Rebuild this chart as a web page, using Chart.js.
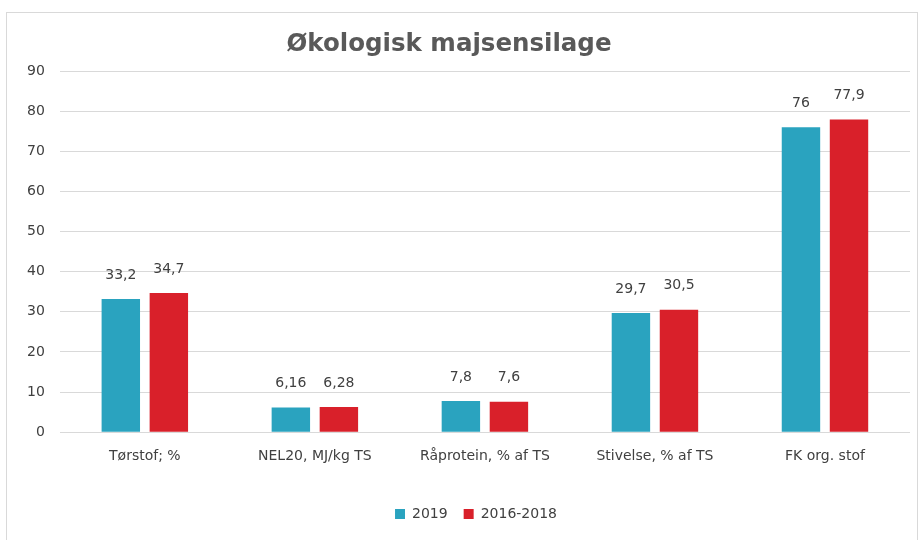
<!DOCTYPE html>
<html><head><meta charset="utf-8">
<script src="https://cdn.jsdelivr.net/npm/chart.js@4/dist/chart.umd.min.js"></script>
<style>
html,body{margin:0;padding:0;background:#fff;}
#frame{position:absolute;left:6px;top:12px;width:912px;height:540px;border:1px solid #d9d9d9;box-sizing:border-box;}
#wrap{position:absolute;left:0;top:0;width:924px;height:540px;}
</style></head>
<body>
<div id="frame"></div>
<div id="wrap"><canvas id="c" width="924" height="540"></canvas></div>
<script>
const categories = ["Tørstof; %", "NEL20, MJ/kg TS", "Råprotein, % af TS", "Stivelse, % af TS", "FK org. stof"];
const series2019 = [33.2, 6.16, 7.8, 29.7, 76];
const series20162018 = [34.7, 6.28, 7.6, 30.5, 77.9];
const seriesNames = ["2019", "2016-2018"];
const yTicks = [0, 10, 20, 30, 40, 50, 60, 70, 80, 90];
const titleText = 'Økologisk majsensilage';

const FONT = '"DejaVu Sans", sans-serif';

const labelPlugin = {
  id: 'valueLabels',
  afterLayout(chart) {
    if (chart.legend) { chart.legend.left += 15; chart.legend.right += 15; }
  },
  afterDatasetsDraw(chart) {
    const ctx = chart.ctx;
    ctx.save();
    ctx.font = '14px ' + FONT;
    ctx.fillStyle = '#404040';
    ctx.textAlign = 'center';
    ctx.textBaseline = 'middle';
    chart.data.datasets.forEach((ds, i) => {
      const meta = chart.getDatasetMeta(i);
      meta.data.forEach((bar, j) => {
        const v = ds.data[j];
        ctx.fillText(String(v).replace('.', ','), bar.x, bar.y - 24);
      });
    });
    ctx.font = 'bold 24.5px ' + FONT;
    ctx.fillStyle = '#595959';
    ctx.fillText(titleText, chart.width / 2 - 13, 45);
    ctx.restore();
  }
};

new Chart(document.getElementById('c'), {
  type: 'bar',
  data: {
    labels: categories,
    datasets: [
      { label: seriesNames[0], data: series2019, backgroundColor: '#2AA3BF', categoryPercentage: 0.565, barPercentage: 0.8 },
      { label: seriesNames[1], data: series20162018, backgroundColor: '#D9202A', categoryPercentage: 0.565, barPercentage: 0.8 }
    ]
  },
  options: {
    responsive: false,
    animation: false,
    layout: { padding: { left: 12, right: 14, top: 71, bottom: 9 } },
    plugins: {
      title: { display: false },
      legend: {
        position: 'bottom',
        labels: {
          color: '#404040',
          font: { family: FONT, size: 14 },
          boxWidth: 10, boxHeight: 10, padding: 16
        }
      },
      tooltip: { enabled: false }
    },
    scales: {
      x: {
        grid: { display: false },
        border: { display: false },
        ticks: { color: '#404040', font: { family: FONT, size: 14 }, padding: 8 },
        afterFit(axis) { axis.height += 18; }
      },
      y: {
        min: 0, max: 90,
        afterBuildTicks(axis) { axis.ticks = yTicks.map(v => ({ value: v })); },
        grid: { color: '#d9d9d9', drawTicks: false },
        border: { display: false },
        ticks: { color: '#404040', font: { family: FONT, size: 14 }, padding: 15 }
      }
    }
  },
  plugins: [labelPlugin]
});
</script>
</body></html>
